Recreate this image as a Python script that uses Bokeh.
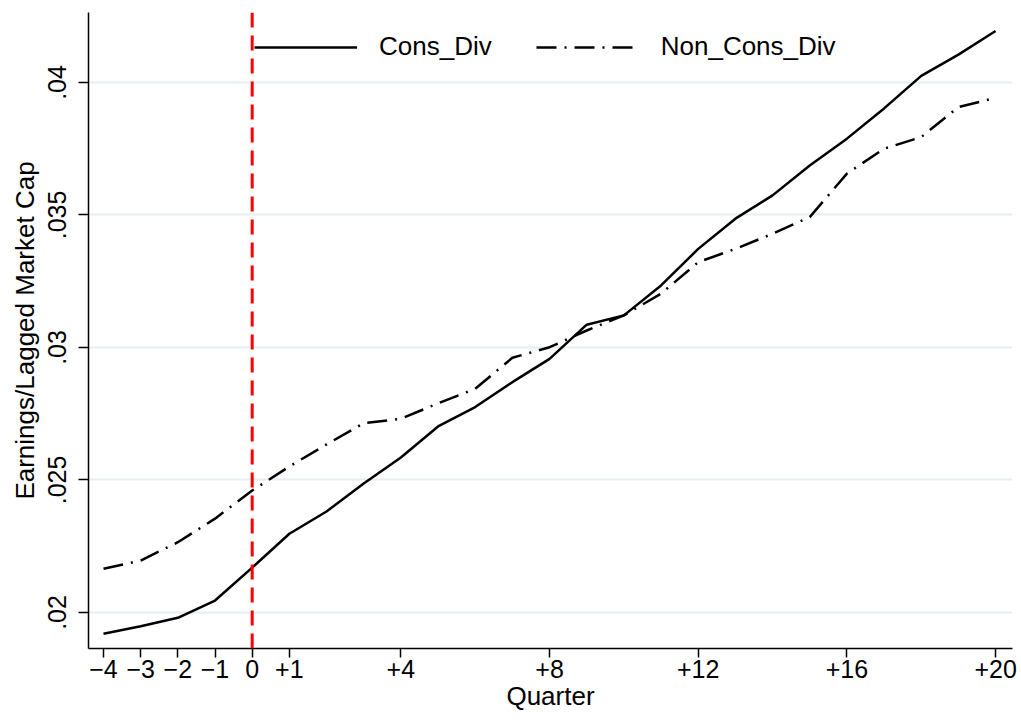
from bokeh.plotting import figure
from bokeh.models import Span, FixedTicker, CustomJSTickFormatter, Legend, LegendItem, Range1d
from bokeh.embed import file_html
from bokeh.resources import INLINE

quarters = list(range(-4, 21))
cons_div = [0.01920, 0.01948, 0.01980, 0.02045, 0.02169, 0.02297, 0.02381, 0.02487,
            0.02585, 0.02702, 0.02775, 0.02869, 0.02957, 0.03086, 0.03121, 0.03234,
            0.03372, 0.03486, 0.03574, 0.03687, 0.03788, 0.03902, 0.04025, 0.04105, 0.04194]
non_cons_div = [0.02165, 0.02196, 0.02265, 0.02354, 0.02460, 0.02551, 0.02634, 0.02714,
                0.02731, 0.02789, 0.02844, 0.02961, 0.03001, 0.03064, 0.03121, 0.03203,
                0.03322, 0.03372, 0.03429, 0.03492, 0.03656, 0.03750, 0.03794, 0.03907, 0.03942]
x_ticks = [-4, -3, -2, -1, 0, 1, 4, 8, 12, 16, 20]
x_tick_labels = ["\u22124", "\u22123", "\u22122", "\u22121", "0", "+1", "+4", "+8", "+12", "+16", "+20"]
y_ticks = [0.02, 0.025, 0.03, 0.035, 0.04]

FONT = "Liberation Sans"

p = figure(width=1021, height=720, output_backend="svg", toolbar_location=None,
           x_range=Range1d(-4.404, 20.455), y_range=Range1d(0.01864, 0.04264),
           min_border_left=88, min_border_right=9, min_border_top=12, min_border_bottom=72)
p.outline_line_color = None
p.background_fill_color = "white"
p.border_fill_color = "white"

# grid
p.xgrid.visible = False
p.ygrid.grid_line_color = "#e6eef1"
p.ygrid.grid_line_width = 2

# axes
for ax in (p.xaxis[0], p.yaxis[0]):
    ax.axis_line_color = "black"
    ax.axis_line_width = 1.5
    ax.major_tick_line_color = "black"
    ax.major_tick_line_width = 1.5
    ax.major_tick_in = 0
    ax.minor_tick_line_color = None
    ax.major_label_text_font = FONT
    ax.major_label_text_color = "black"
    ax.axis_label_text_font = FONT
    ax.axis_label_text_font_style = "normal"
    ax.axis_label_text_color = "black"

p.xaxis.ticker = FixedTicker(ticks=x_ticks)
p.xaxis.major_label_overrides = {t: l for t, l in zip(x_ticks, x_tick_labels)}
p.xaxis.major_tick_out = 9
p.xaxis.major_label_text_font_size = "25px"
p.xaxis.major_label_standoff = 2
p.xaxis.axis_label = "Quarter"
p.xaxis.axis_label_text_font_size = "26px"
p.xaxis.axis_label_standoff = 0

p.yaxis.ticker = FixedTicker(ticks=y_ticks)
p.yaxis.formatter = CustomJSTickFormatter(
    code="return tick.toFixed(3).replace(/0+$/, '').replace(/^0/, '');")
p.yaxis.major_label_orientation = "vertical"
p.yaxis.major_tick_out = 10
p.yaxis.major_label_text_font_size = "25px"
p.yaxis.major_label_standoff = 12
p.yaxis.axis_label = "Earnings/Lagged Market Cap"
p.yaxis.axis_label_text_font_size = "26px"
p.yaxis.axis_label_standoff = 6

# reference line
p.add_layout(Span(location=0, dimension="height", line_color="#ff0000",
                  line_width=3, line_dash="15 8"))

r1 = p.line(quarters, cons_div, line_color="black", line_width=2.5)
r2 = p.line(quarters, non_cons_div, line_color="black", line_width=2.5, line_dash="20 8 2 8")

legend = Legend(items=[LegendItem(label="Cons_Div", renderers=[r1]),
                       LegendItem(label="Non_Cons_Div", renderers=[r2])],
                orientation="horizontal", location=(166, 586),
                background_fill_alpha=0, border_line_alpha=0,
                padding=0, margin=0, spacing=44, label_standoff=22,
                glyph_width=103, glyph_height=20,
                label_text_font=FONT, label_text_font_size="26px",
                label_text_color="black")
p.add_layout(legend)

open("out.html", "w").write(file_html(p, INLINE))
